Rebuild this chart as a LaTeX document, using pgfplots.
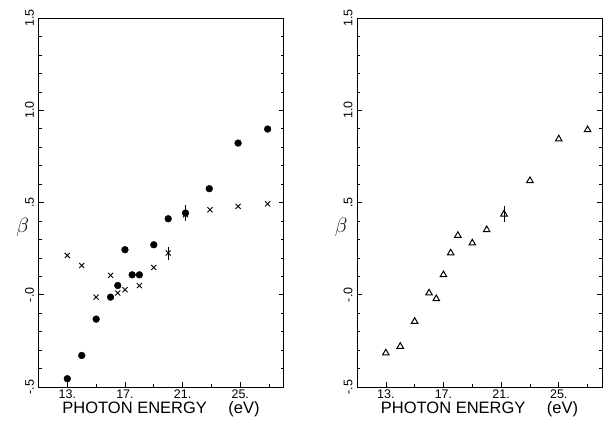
\documentclass[border=0pt]{standalone}
\usepackage{fontspec}
\setmainfont{Liberation Sans}
\usepackage{pgfplots}
\pgfplotsset{compat=1.18}

\pgfplotsset{
  betapanel/.style={
    scale only axis, width=245pt, height=369pt,
    xmin=11, xmax=28, ymin=-0.5, ymax=1.5,
    axis line style={line width=0.6pt},
    xtick={13,17,21,25}, xticklabels={13.,17.,21.,25.},
    minor xtick={15,19,23,27},
    ytick={-0.5,0,0.5,1,1.5}, yticklabels={-.5,-.0,.5,1.0,1.5},
    minor ytick={-0.4,-0.3,-0.2,-0.1,0.1,0.2,0.3,0.4,0.6,0.7,0.8,0.9,1.1,1.2,1.3,1.4},
    xtick pos=left,
    major tick length=5pt, minor tick length=3pt,
    tick style={line width=0.6pt, black},
    tick label style={font=\fontsize{12.5}{12.5}\selectfont},
    yticklabel style={rotate=90, anchor=south},
    yticklabel shift=1pt,
    xticklabel shift=-1pt,
    xlabel={PHOTON ENERGY\hspace{1.3em}(eV)},
    xlabel style={font=\fontsize{16.5}{16.5}\selectfont, at={(axis description cs:0.5,0)}, anchor=north, inner sep=0pt, yshift=-14pt},
    ylabel={$\beta$},
    ylabel style={font=\fontsize{22}{22}\selectfont, rotate=-90, at={(axis description cs:-0.065,0.434)}, anchor=center},
    error bars/y dir=both, error bars/y explicit,
    error bars/error mark=none,
    error bars/error bar style={line width=0.6pt},
  }
}

\begin{document}
\begin{tikzpicture}
\path[use as bounding box] (0,0) rectangle (604pt,424pt);

% left panel: filled dots and crosses
\begin{axis}[betapanel, at={(38.5pt,37pt)}, anchor=south west]
  \addplot[only marks, mark=*, mark size=3.4pt, black] coordinates {
    (13,-0.455) +- (0,0) (14,-0.329) +- (0,0) (15,-0.132) +- (0,0)
    (16,-0.013) +- (0,0) (16.5,0.05) +- (0,0) (17,0.244) +- (0,0)
    (17.5,0.108) +- (0,0) (18,0.108) +- (0,0) (19,0.271) +- (0,0)
    (20,0.412) +- (0,0) (21.2,0.443) +- (0,0.042) (22.85,0.575) +- (0,0)
    (24.85,0.822) +- (0,0) (26.9,0.898) +- (0,0)};
  \addplot[only marks, mark=x, mark size=3.6pt, line width=0.9pt, black] coordinates {
    (13,0.213) +- (0,0) (14,0.159) +- (0,0) (15,-0.013) +- (0,0)
    (16,0.105) +- (0,0) (16.5,0.009) +- (0,0) (17,0.027) +- (0,0)
    (18,0.05) +- (0,0) (19,0.148) +- (0,0) (20,0.226) +- (0,0.035)
    (21.2,0.434) +- (0,0) (22.9,0.461) +- (0,0) (24.85,0.479) +- (0,0)
    (26.9,0.493) +- (0,0)};
\end{axis}

% right panel: open triangles
\begin{axis}[betapanel, at={(357pt,37pt)}, anchor=south west, width=245pt]
  \addplot[only marks, mark=triangle, mark size=3.8pt, line width=1pt, black] coordinates {
    (13,-0.316) +- (0,0) (14,-0.280) +- (0,0) (15,-0.145) +- (0,0)
    (16,0.009) +- (0,0) (16.5,-0.022) +- (0,0) (17,0.108) +- (0,0)
    (17.5,0.226) +- (0,0) (18,0.321) +- (0,0) (19,0.28) +- (0,0)
    (20,0.352) +- (0,0) (21.2,0.437) +- (0,0.042) (23,0.618) +- (0,0)
    (25,0.844) +- (0,0) (27,0.894) +- (0,0)};
\end{axis}
\end{tikzpicture}
\end{document}
